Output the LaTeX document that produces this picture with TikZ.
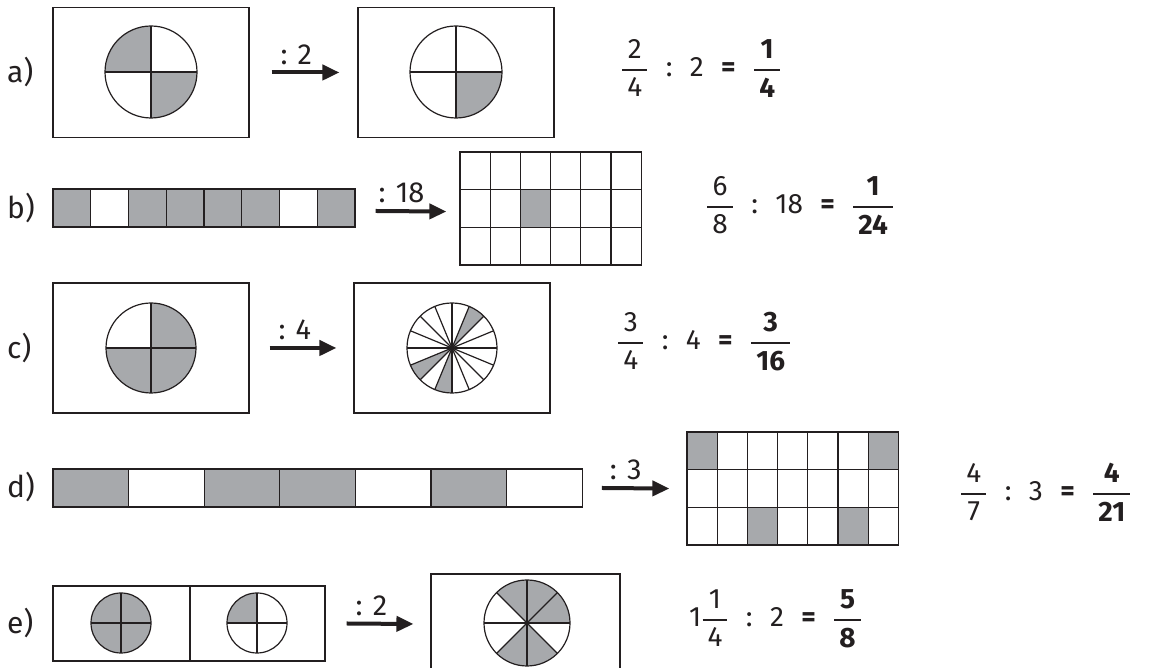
\RequirePackage{fix-cm}
\documentclass[tikz,border=0pt]{standalone}
\usepackage{amsmath}
\usepackage{fontspec}
\setmainfont{Fira Sans}
\usepackage{tikz}
\usetikzlibrary{arrows.meta,positioning}
\definecolor{piegray}{RGB}{167,169,172}
\definecolor{inkc}{RGB}{35,31,32}
% fraction with a heavy bar, set in the text font
\newcommand{\fr}[2]{\ensuremath{\genfrac{}{}{2.2pt}{0}{\kern5pt\text{#1}\kern5pt}{\kern5pt\text{#2}\kern5pt}}}
\newcommand{\gap}{\hspace{0.62em}}
% pie: centre, radius, number of sectors, shaded sectors
\newcommand{\piechart}[4]{%
  \foreach \k in {#4} {
    \fill[piegray] (#1) -- ++({(\k-1)*360/#3}:#2pt)
      arc[start angle={(\k-1)*360/#3}, delta angle={360/#3}, radius=#2pt] -- cycle;
  }
  \foreach \k in {1,...,#3} {\draw[pie] (#1) -- ++({\k*360/#3}:#2pt);}
  \draw[pie] (#1) circle[radius=#2pt];
}

\begin{document}
\begin{tikzpicture}[x=1pt,y=1pt,>=Stealth,
  frame/.style={draw=inkc,line width=1.1pt,inner sep=0pt,minimum width=196pt,minimum height=130pt},
  outline/.style={draw=inkc,line width=1.2pt,inner sep=0pt},
  pie/.style={draw=inkc,line width=1.2pt},
  cell/.style={draw=inkc,line width=1.2pt},
  divarrow/.style={-{Triangle[length=17pt,width=15pt]},line width=4pt,draw=inkc},
  divlabel/.style={font=\fontsize{29}{34}\selectfont,anchor=south west,inner sep=0pt,xshift=7pt,yshift=6pt,text=inkc},
  tasklabel/.style={font=\fontsize{30}{36}\selectfont,anchor=west,inner sep=0pt,text=inkc},
  eqn/.style={font=\fontsize{28}{34}\selectfont,anchor=base west,inner sep=0pt,text=inkc}]
  \useasboundingbox (0,0) rectangle (1152,668);

  % a) two quarters of four, halved
  \node[tasklabel] (la) at (7,596) {a)};
  \node[frame] (a1) at (151,595.5) {};
  \node[frame] (a2) at (456,595.5) {};
  \piechart{151,596}{46}{4}{2,4}
  \piechart{456,596}{46}{4}{4}
  \draw[divarrow] ([xshift=22pt]a1.east) -- ([xshift=-18pt]a2.west) node[divlabel,pos=0] {: 2};
  \node[eqn] (ea) at (621,591) {\fr{2}{4}\gap:\gap 2\gap\textbf{=}\gap\fr{\textbf{1}}{\textbf{4}}};

  % b) strip of eight, six shaded
  \node[tasklabel] (lb) at (7,460) {b)};
  \foreach \i/\f in {1/piegray,2/white,3/piegray,4/piegray,5/piegray,6/piegray,7/white,8/piegray}
    \filldraw[cell,fill=\f] ({53+(\i-1)*37.75},441) rectangle ++(37.75,38);
  \node[outline,minimum width=302pt,minimum height=38pt] (bbar) at (204,460) {};
  % grid 6 x 3, one cell shaded
  \fill[piegray] (520.4,440.6) rectangle ++(30.2,37.7);
  \foreach \i in {1,...,5} \draw[cell] ({460+\i*30.2},402.9) -- ({460+\i*30.2},516);
  \foreach \j in {1,2} \draw[cell] (460,{516-\j*37.7}) -- (641.2,{516-\j*37.7});
  \node[outline,minimum width=181.2pt,minimum height=113.1pt] (bgrid) at (550.6,459.45) {};
  \draw[divarrow] ([shift={(20pt,-3pt)}]bbar.east) -- ([shift={(-13pt,-3pt)}]bgrid.west) node[divlabel,pos=0,xshift=-6pt] {: 18};
  \node[eqn] (eb) at (706,454) {\fr{6}{8}\gap:\gap 18\gap\textbf{=}\gap\fr{\textbf{1}}{\textbf{24}}};

  % c) three quarters into sixteenths
  \node[tasklabel] (lc) at (7,320) {c)};
  \node[frame] (c1) at (151,320) {};
  \node[frame] (c2) at (452,320) {};
  \piechart{151,320}{45}{4}{1,3,4}
  \piechart{452,320}{45}{16}{3,10,12}
  \fill[inkc] (452,320) circle[radius=2.6pt];
  \draw[divarrow] ([xshift=20pt]c1.east) -- ([xshift=-17pt]c2.west) node[divlabel,pos=0] {: 4};
  \node[eqn] (ec) at (617,318) {\fr{3}{4}\gap:\gap 4\gap\textbf{=}\gap\fr{\textbf{3}}{\textbf{16}}};

  % d) strip of seven, four shaded
  \node[tasklabel] (ld) at (7,181) {d)};
  \foreach \i/\f in {1/piegray,2/white,3/piegray,4/piegray,5/white,6/piegray,7/white}
    \filldraw[cell,fill=\f] ({53+(\i-1)*75.6},161) rectangle ++(75.6,38);
  \node[outline,minimum width=529.2pt,minimum height=38pt] (dbar) at (317.6,180) {};
  % grid 7 x 3, four cells shaded
  \foreach \c/\r in {1/1,7/1,3/3,6/3}
    \fill[piegray] ({687+(\c-1)*30.2},{236-\r*37.7}) rectangle ++(30.2,37.7);
  \foreach \i in {1,...,6} \draw[cell] ({687+\i*30.2},122.9) -- ({687+\i*30.2},236);
  \foreach \j in {1,2} \draw[cell] (687,{236-\j*37.7}) -- (898.4,{236-\j*37.7});
  \node[outline,minimum width=211.4pt,minimum height=113.1pt] (dgrid) at (792.7,179.45) {};
  \draw[divarrow] ([xshift=19pt]dbar.east) -- ([xshift=-17pt]dgrid.west) node[divlabel,pos=0,xshift=-1pt] {: 3};
  \node[eqn] (ed) at (960,167) {\fr{4}{7}\gap:\gap 3\gap\textbf{=}\gap\fr{\textbf{4}}{\textbf{21}}};

  % e) one and a quarter into eighths
  \node[tasklabel] (le) at (7,45) {e)};
  \node[frame,minimum width=272pt,minimum height=75pt] (e1) at (189,44.5) {};
  \draw[pie] (e1.north) ++(1pt,0) -- ([xshift=1pt]e1.south);
  \piechart{121,45}{30}{4}{1,2,3,4}
  \piechart{257,45}{30}{4}{2}
  \node[frame,minimum width=189pt,minimum height=100pt] (e2) at (525.5,44) {};
  \piechart{527,45}{43}{8}{1,2,3,6,7}
  \draw[divarrow] ([xshift=21pt]e1.east) -- ([xshift=-17pt]e2.west) node[divlabel,pos=0] {: 2};
  \node[eqn] (ee) at (689,41) {1\fr{1}{4}\gap:\gap 2\gap\textbf{=}\gap\fr{\textbf{5}}{\textbf{8}}};
\end{tikzpicture}
\end{document}
